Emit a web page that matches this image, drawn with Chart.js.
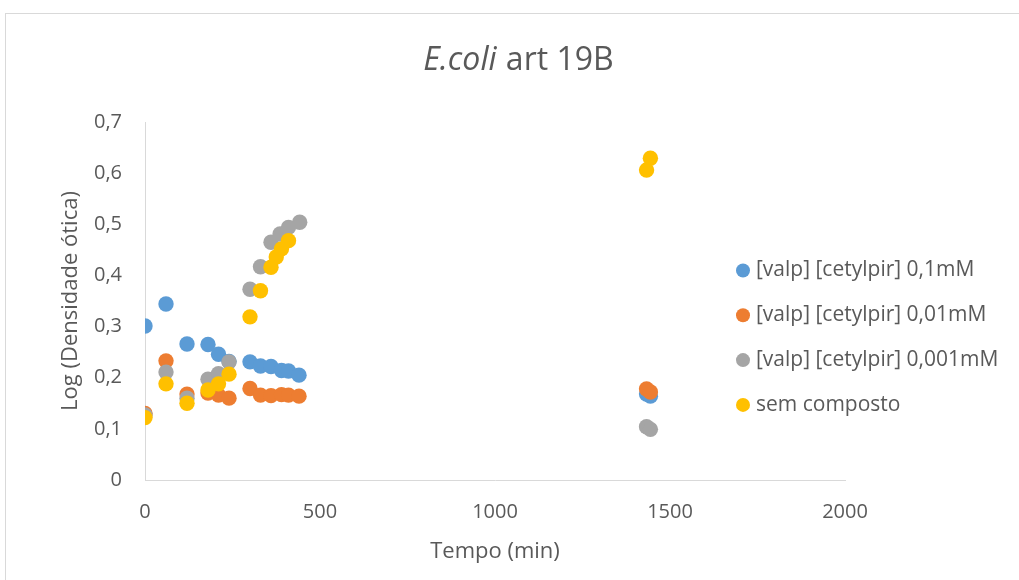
<!DOCTYPE html>
<html>
<head>
<meta charset="utf-8">
<script src="https://cdn.jsdelivr.net/npm/chart.js@4.4.1/dist/chart.umd.min.js"></script>
<style>
  html, body { margin: 0; padding: 0; background: #ffffff; overflow: hidden; }
  #wrap { position: relative; width: 1019px; height: 580px; }
</style>
</head>
<body>
<div id="wrap"><canvas id="c" width="1019" height="580"></canvas></div>
<script>
// ---- data ----
const seriesNames = [
  "[valp] [cetylpir] 0,1mM",
  "[valp] [cetylpir] 0,01mM",
  "[valp] [cetylpir] 0,001mM",
  "sem composto"
];
const blueX   = [0, 60, 120, 180, 210, 240, 300, 330, 360, 390, 410, 440, 1433, 1444];
const blueY   = [0.301, 0.344, 0.266, 0.265, 0.246, 0.232, 0.231, 0.223, 0.222, 0.214, 0.213, 0.205, 0.168, 0.164];
const orangeX = [0, 60, 120, 180, 210, 240, 300, 330, 360, 390, 410, 440, 1433, 1444];
const orangeY = [0.130, 0.233, 0.168, 0.170, 0.166, 0.160, 0.179, 0.166, 0.165, 0.167, 0.166, 0.164, 0.178, 0.172];
const grayX   = [0, 60, 120, 180, 210, 240, 300, 330, 360, 386, 410, 442, 1433, 1444];
const grayY   = [0.127, 0.211, 0.160, 0.197, 0.208, 0.231, 0.373, 0.417, 0.465, 0.481, 0.494, 0.504, 0.104, 0.099];
const yellowX = [0, 60, 120, 180, 210, 240, 300, 330, 360, 375, 390, 410, 1433, 1444];
const yellowY = [0.122, 0.188, 0.150, 0.176, 0.188, 0.207, 0.319, 0.370, 0.416, 0.436, 0.452, 0.468, 0.606, 0.629];
const xTicks = [0, 500, 1000, 1500, 2000];
const yTicks = [0, 0.1, 0.2, 0.3, 0.4, 0.5, 0.6, 0.7];
const titleItalic = "E.coli";
const titleRest = " art 19B";
const xTitle = "Tempo (min)";
const yTitle = "Log (Densidade ótica)";

const colors = ["#5B9BD5", "#ED7D31", "#A5A5A5", "#FFC000"];
const FONT = "'Open Sans', 'DejaVu Sans', sans-serif";
const TXT = "#595959";

function pts(xs, ys) { return xs.map((x, i) => ({ x: x, y: ys[i] })); }
const allX = [blueX, orangeX, grayX, yellowX];
const allY = [blueY, orangeY, grayY, yellowY];

const datasets = seriesNames.map((name, i) => ({
  label: name,
  data: pts(allX[i], allY[i]),
  backgroundColor: colors[i],
  borderColor: colors[i],
  borderWidth: 0,
  pointRadius: 7.7,
  pointHoverRadius: 7.7,
  order: 3 - i
}));

const frame = {
  id: 'frame',
  beforeDraw(chart) {
    const ctx = chart.ctx;
    ctx.save();
    ctx.fillStyle = '#ffffff';
    ctx.fillRect(0, 0, chart.width, chart.height);
    ctx.strokeStyle = '#d9d9d9';
    ctx.lineWidth = 1;
    ctx.strokeRect(5.5, 13.5, 1200, 800);
    ctx.restore();
  }
};

const richTitle = {
  id: 'richTitle',
  afterDraw(chart) {
    const ctx = chart.ctx;
    ctx.save();
    ctx.fillStyle = TXT;
    ctx.textBaseline = 'middle';
    const fItal = "italic 32px " + FONT;
    const fNorm = "32px " + FONT;
    ctx.font = fItal; const w1 = ctx.measureText(titleItalic).width;
    ctx.font = fNorm; const w2 = ctx.measureText(titleRest).width;
    const cx = 518, cy = 61;
    let x = cx - (w1 + w2) / 2;
    ctx.textAlign = 'left';
    ctx.font = fItal; ctx.fillText(titleItalic, x, cy);
    ctx.font = fNorm; ctx.fillText(titleRest, x + w1 + 1, cy);
    ctx.restore();
  }
};

const sideLegend = {
  id: 'sideLegend',
  afterDraw(chart) {
    const ctx = chart.ctx;
    ctx.save();
    ctx.font = "21px " + FONT;
    ctx.textBaseline = 'middle';
    ctx.textAlign = 'left';
    chart.data.datasets.forEach((ds, i) => {
      const y = 270.5 + i * 44.8;
      ctx.fillStyle = ds.backgroundColor;
      ctx.beginPath();
      ctx.arc(743, y, 7, 0, Math.PI * 2);
      ctx.fill();
      ctx.fillStyle = TXT;
      ctx.fillText(ds.label, 756, y);
    });
    ctx.restore();
  }
};

new Chart(document.getElementById('c'), {
  type: 'scatter',
  data: { datasets: datasets },
  plugins: [frame, richTitle, sideLegend],
  options: {
    responsive: false,
    animation: false,
    layout: { padding: { left: 0, right: 174, top: 122, bottom: 0 } },
    plugins: {
      legend: { display: false },
      title: { display: false },
      tooltip: { enabled: false }
    },
    scales: {
      x: {
        type: 'linear',
        min: 0, max: 2000,
        afterBuildTicks(scale) { scale.ticks = xTicks.map(v => ({ value: v })); },
        afterFit(scale) { scale.height = 100; },
        grid: { display: false, drawTicks: false },
        border: { display: true, color: '#d9d9d9', width: 1 },
        ticks: { color: TXT, font: { family: FONT, size: 20 }, padding: 20, maxRotation: 0,
                 callback: v => String(v) },
        title: { display: true, text: xTitle, color: TXT, font: { family: FONT, size: 22 }, padding: { top: 0, bottom: 15 } }
      },
      y: {
        type: 'linear',
        min: 0, max: 0.7,
        afterBuildTicks(scale) { scale.ticks = yTicks.map(v => ({ value: v })); },
        afterFit(scale) { scale.width = 145; },
        grid: { display: false, drawTicks: false },
        border: { display: true, color: '#d9d9d9', width: 1 },
        ticks: {
          color: TXT, font: { family: FONT, size: 20 }, padding: 23,
          callback: v => (v === 0 ? "0" : v.toFixed(1).replace('.', ','))
        },
        title: { display: true, text: yTitle, color: TXT, font: { family: FONT, size: 22 }, padding: { top: 58, bottom: 0 } }
      }
    }
  }
});
</script>
</body>
</html>
